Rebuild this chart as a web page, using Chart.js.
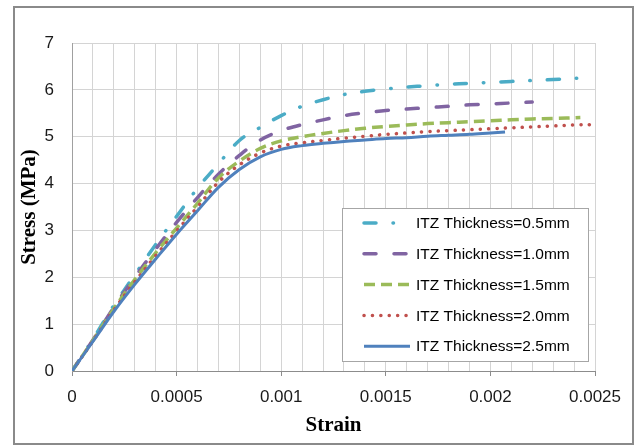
<!DOCTYPE html>
<html>
<head>
<meta charset="utf-8">
<script src="https://cdn.jsdelivr.net/npm/chart.js@4/dist/chart.umd.min.js"></script>
<style>
  html, body { margin: 0; padding: 0; background: #fff; }
  #wrap { width: 634px; height: 446px; }
</style>
</head>
<body>
<div id="wrap"><canvas id="c" width="634" height="446"></canvas></div>
<script>
// ---- Data ----
const seriesLabels = [
  'ITZ Thickness=0.5mm',
  'ITZ Thickness=1.0mm',
  'ITZ Thickness=1.5mm',
  'ITZ Thickness=2.0mm',
  'ITZ Thickness=2.5mm'
];

const strain05 = [0, 0.0001, 0.0002, 0.0003, 0.0004, 0.0005, 0.0006, 0.0007, 0.0008, 0.0009, 0.001, 0.0011, 0.0012, 0.0013, 0.0014, 0.0015, 0.0016, 0.0017, 0.0018, 0.0019, 0.002, 0.0021, 0.0022, 0.0023, 0.00242];
const stress05 = [0, 0.68, 1.40, 2.05, 2.70, 3.30, 3.90, 4.42, 4.92, 5.20, 5.45, 5.65, 5.79, 5.90, 5.97, 6.02, 6.06, 6.09, 6.12, 6.14, 6.16, 6.18, 6.20, 6.22, 6.25];

const strain10 = [0, 0.0001, 0.0002, 0.0003, 0.0004, 0.0005, 0.0006, 0.0007, 0.0008, 0.0009, 0.001, 0.0011, 0.0012, 0.0013, 0.0014, 0.0015, 0.0016, 0.0017, 0.0018, 0.0019, 0.002, 0.0021, 0.0022];
const stress10 = [0, 0.66, 1.36, 2.00, 2.60, 3.17, 3.70, 4.20, 4.60, 4.93, 5.13, 5.26, 5.36, 5.45, 5.51, 5.56, 5.59, 5.62, 5.65, 5.68, 5.70, 5.72, 5.74];

const strain15 = [0, 0.0001, 0.0002, 0.0003, 0.0004, 0.0005, 0.0006, 0.0007, 0.0008, 0.0009, 0.001, 0.0011, 0.0012, 0.0013, 0.0014, 0.0015, 0.0016, 0.0017, 0.0018, 0.0019, 0.002, 0.0021, 0.0022, 0.0023, 0.00243];
const stress15 = [0, 0.65, 1.33, 1.95, 2.52, 3.05, 3.58, 4.12, 4.48, 4.75, 4.91, 5.00, 5.07, 5.13, 5.18, 5.22, 5.25, 5.28, 5.30, 5.32, 5.34, 5.36, 5.38, 5.39, 5.41];

const strain20 = [0, 0.0001, 0.0002, 0.0003, 0.0004, 0.0005, 0.0006, 0.0007, 0.0008, 0.0009, 0.001, 0.0011, 0.0012, 0.0013, 0.0014, 0.0015, 0.0016, 0.0017, 0.0018, 0.0019, 0.002, 0.0021, 0.0022, 0.0023, 0.0024, 0.0025];
const stress20 = [0, 0.64, 1.30, 1.90, 2.46, 2.99, 3.50, 4.03, 4.40, 4.65, 4.80, 4.87, 4.92, 4.97, 5.01, 5.05, 5.08, 5.11, 5.13, 5.15, 5.17, 5.19, 5.21, 5.23, 5.25, 5.26];

const strain25 = [0, 0.0001, 0.0002, 0.0003, 0.0004, 0.0005, 0.0006, 0.0007, 0.0008, 0.0009, 0.001, 0.0011, 0.0012, 0.0013, 0.0014, 0.0015, 0.0016, 0.0017, 0.0018, 0.0019, 0.002, 0.00207];
const stress25 = [0, 0.63, 1.27, 1.85, 2.39, 2.92, 3.42, 3.92, 4.30, 4.57, 4.73, 4.81, 4.86, 4.90, 4.93, 4.96, 4.98, 5.01, 5.03, 5.05, 5.08, 5.10];

const xTickLabels = ['0', '0.0005', '0.001', '0.0015', '0.002', '0.0025'];
const yTickLabels = ['0', '1', '2', '3', '4', '5', '6', '7'];

// ---- Build chart ----
function pts(xs, ys) { return xs.map((x, i) => ({ x: x, y: ys[i] })); }

const styles = [
  { color: '#4bacc6', width: 3.5, dash: [12, 17, 0.5, 17], cap: 'round', order: 5 },
  { color: '#8064a2', width: 3.5, dash: [12, 18], cap: 'round', order: 4 },
  { color: '#9bbb59', width: 3.5, dash: [11, 6], cap: 'butt', order: 3 },
  { color: '#c0504d', width: 3.5, dash: [0.1, 8.3], cap: 'round', order: 2 },
  { color: '#4f81bd', width: 3, dash: [], cap: 'butt', order: 1 }
];
const allData = [
  pts(strain05, stress05), pts(strain10, stress10), pts(strain15, stress15),
  pts(strain20, stress20), pts(strain25, stress25)
];

const datasets = allData.map((d, i) => ({
  label: seriesLabels[i],
  data: d,
  borderColor: styles[i].color,
  backgroundColor: styles[i].color,
  borderWidth: styles[i].width,
  borderDash: styles[i].dash,
  borderCapStyle: styles[i].cap,
  borderJoinStyle: 'round',
  pointRadius: 0,
  pointHoverRadius: 0,
  fill: false,
  tension: 0.35,
  order: styles[i].order
}));

const frameAndLegend = {
  id: 'frameAndLegend',
  beforeDraw(chart) {
    const ctx = chart.ctx;
    ctx.save();
    ctx.fillStyle = '#ffffff';
    ctx.fillRect(0, 0, chart.width, chart.height);
    ctx.strokeStyle = '#8a8a8a';
    ctx.lineWidth = 2;
    ctx.strokeRect(14, 7, 619, 437);
    ctx.restore();
  },
  afterDatasetsDraw(chart) {
    const ctx = chart.ctx;
    const bx = 342.5, by = 208.5, bw = 246, bh = 153;
    ctx.save();
    ctx.fillStyle = '#ffffff';
    ctx.fillRect(bx, by, bw, bh);
    ctx.strokeStyle = '#a6a6a6';
    ctx.lineWidth = 1;
    ctx.strokeRect(bx, by, bw, bh);
    chart.data.datasets.forEach((ds, i) => {
      const y = 223 + i * 30.8;
      ctx.save();
      ctx.strokeStyle = ds.borderColor;
      ctx.lineWidth = ds.borderWidth;
      ctx.lineCap = ds.borderCapStyle;
      ctx.setLineDash(ds.borderDash);
      ctx.beginPath();
      ctx.moveTo(364, y);
      ctx.lineTo(410, y);
      ctx.stroke();
      ctx.restore();
      ctx.fillStyle = '#000000';
      ctx.font = '15.5px "Liberation Sans", Arial, sans-serif';
      ctx.textBaseline = 'middle';
      ctx.textAlign = 'left';
      ctx.fillText(ds.label, 416, y + 1);
    });
    ctx.restore();
  }
};

new Chart(document.getElementById('c'), {
  type: 'line',
  data: { datasets: datasets },
  options: {
    responsive: false,
    animation: false,
    events: [],
    layout: { padding: { left: 0, top: 43, right: 39, bottom: 0 } },
    plugins: {
      legend: { display: false },
      tooltip: { enabled: false },
      title: { display: false }
    },
    scales: {
      x: {
        type: 'linear',
        min: 0,
        max: 0.0025,
        afterFit(scale) { scale.height = 75; },
        border: { display: true, color: '#8c8c8c', width: 1 },
        grid: {
          color: '#d4d4d4',
          lineWidth: 1,
          drawTicks: true,
          tickLength: 5,
          tickColor: (c) => {
            const v = c.tick ? c.tick.value : 0;
            const k = Math.round(v / 0.0001);
            return (k % 5 === 0) ? '#8c8c8c' : 'rgba(0,0,0,0)';
          }
        },
        ticks: {
          stepSize: 0.0001,
          autoSkip: false,
          maxRotation: 0,
          minRotation: 0,
          padding: 11,
          color: '#1a1a1a',
          font: { family: '"Liberation Sans", Arial, sans-serif', size: 17 },
          callback: (v) => {
            const k = Math.round(v / 0.0001);
            if (k % 5 !== 0) return '';
            return xTickLabels[k / 5];
          }
        },
        title: {
          display: true,
          text: 'Strain',
          color: '#000',
          font: { family: '"Liberation Serif", "Times New Roman", serif', size: 21, weight: 'bold' },
          padding: { top: 4, bottom: 7.4 }
        }
      },
      y: {
        min: 0,
        max: 7,
        afterFit(scale) { scale.width = 72; },
        border: { display: true, color: '#a0a0a0', width: 1 },
        grid: { color: '#d4d4d4', lineWidth: 1, drawTicks: false },
        ticks: {
          stepSize: 1,
          padding: 18,
          color: '#1a1a1a',
          font: { family: '"Liberation Sans", Arial, sans-serif', size: 17 },
          callback: (v) => yTickLabels[Math.round(v)]
        },
        title: {
          display: true,
          text: 'Stress (MPa)',
          color: '#000',
          font: { family: '"Liberation Serif", "Times New Roman", serif', size: 21, weight: 'bold' },
          padding: { top: 17.4, bottom: 4 }
        }
      }
    }
  },
  plugins: [frameAndLegend]
});
</script>
</body>
</html>
